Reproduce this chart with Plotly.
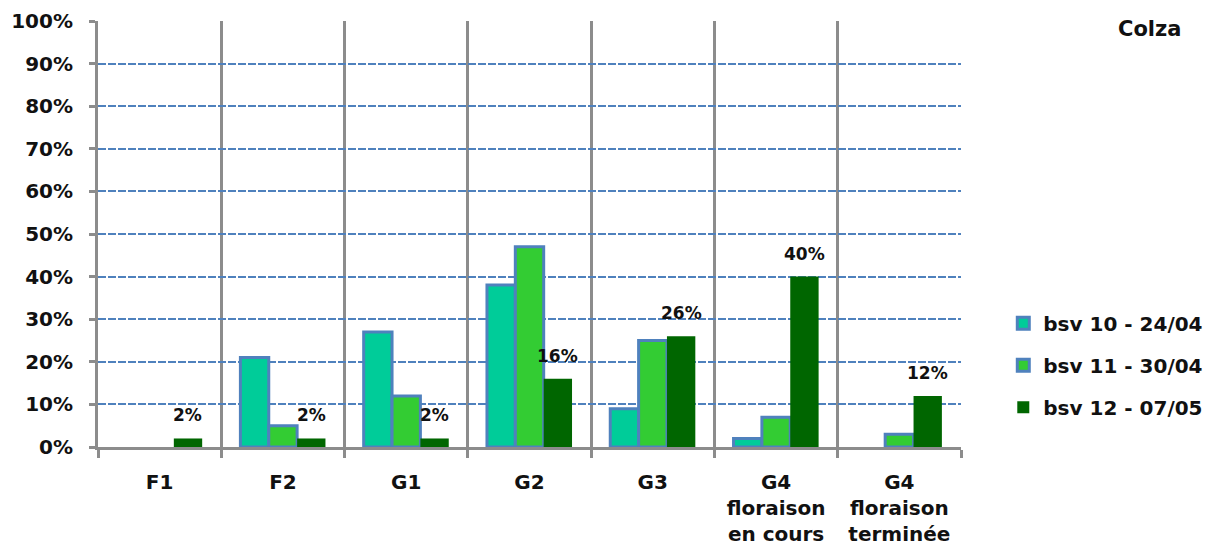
import plotly.graph_objects as go

# Stades phénologiques du colza, relevés de trois bulletins successifs
categories = ["F1", "F2", "G1", "G2", "G3",
              "G4<br>floraison<br>en cours", "G4<br>floraison<br>terminée"]
series_names = ["bsv 10 - 24/04", "bsv 11 - 30/04", "bsv 12 - 07/05"]
bsv10 = [0, 21, 27, 38, 9, 2, 0]
bsv11 = [0, 5, 12, 47, 25, 7, 3]
bsv12 = [2, 2, 2, 16, 26, 40, 12]
y_ticks = list(range(0, 101, 10))
y_labels = [f"{v}%" for v in y_ticks]

W, H = 1214, 553
M = dict(l=98, r=253, t=21, b=106, autoexpand=False)
BARGAP = 0.31
FONT = "DejaVu Sans"
TXT = "#111111"

fill_colors = ["#00CC99", "#33CC33", "#006600"]
outline = "#4F81BD"
grey = "#8C8C8C"

fig = go.Figure()
for i, (name, vals) in enumerate(zip(series_names, [bsv10, bsv11, bsv12])):
    has_outline = i < 2
    # empty bars are left out so no outline is drawn on the baseline
    shown = [v if v > 0 else None for v in vals]
    fig.add_trace(go.Bar(
        x=categories, y=shown, name=name,
        legendgroup=name,
        marker=dict(color=fill_colors[i],
                    line=dict(color=outline if has_outline else fill_colors[i],
                              width=3 if has_outline else 0)),
    ))

# Value labels above the last series' bars
plot_w = W - M["l"] - M["r"]
bar_w = plot_w / len(categories) * (1 - BARGAP) / 3
for cat, v in zip(categories, bsv12):
    fig.add_annotation(
        x=cat, y=v, xref="x", yref="y", text=f"{v}%", showarrow=False,
        xshift=bar_w, yshift=23, yanchor="middle",
        font=dict(family=FONT, size=17, color=TXT, weight="bold"),
    )

fig.add_annotation(
    x=1.219, y=0.981, xref="paper", yref="paper", text="Colza",
    showarrow=False, xanchor="center", yanchor="middle",
    font=dict(family=FONT, size=21, color=TXT, weight="bold"),
)

fig.update_layout(
    width=W, height=H, margin=M,
    paper_bgcolor="white", plot_bgcolor="white",
    barmode="group", bargap=BARGAP, bargroupgap=0,
    font=dict(family=FONT, color=TXT),
    showlegend=True,
    legend=dict(x=1.049, y=0.192, xanchor="left", yanchor="middle",
                font=dict(family=FONT, size=20, color=TXT, weight="bold"),
                tracegroupgap=13, itemwidth=30, bgcolor="rgba(0,0,0,0)"),
)

fig.update_xaxes(
    type="category", tickson="boundaries",
    showline=True, linecolor=grey, linewidth=3,
    ticks="outside", ticklen=8, tickwidth=3, tickcolor=grey,
    showgrid=True, gridcolor=grey, gridwidth=3,
    tickfont=dict(family=FONT, size=20, color=TXT, weight="bold"),
    ticklabelstandoff=15,
)
fig.update_yaxes(
    range=[0, 100], tickmode="array", tickvals=y_ticks, ticktext=y_labels,
    showline=True, linecolor=grey, linewidth=3,
    ticks="outside", ticklen=6, tickwidth=3, tickcolor=grey,
    showgrid=True, gridcolor=outline, gridwidth=2, griddash="8px,2px",
    zeroline=False, ticklabelstandoff=12,
    tickfont=dict(family=FONT, size=20, color=TXT, weight="bold"),
)

fig.write_html("out.html")
